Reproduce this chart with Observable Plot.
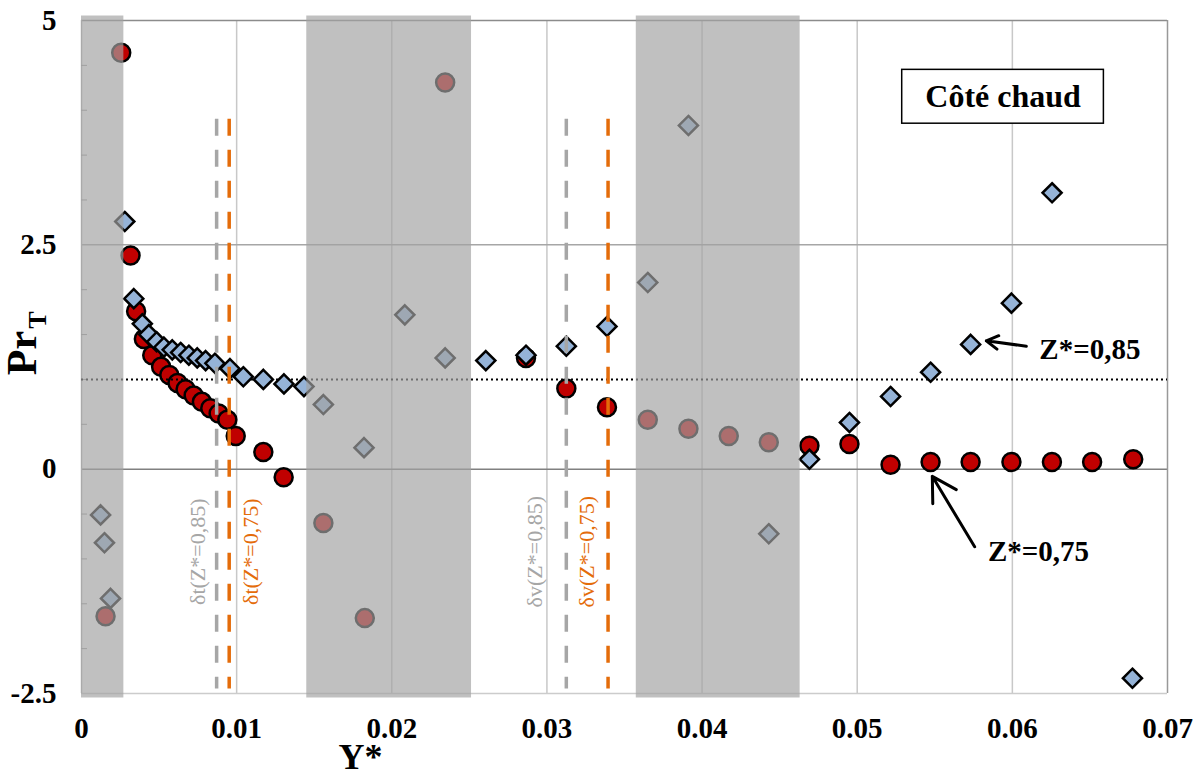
<!DOCTYPE html>
<html>
<head>
<meta charset="utf-8">
<script src="https://cdn.jsdelivr.net/npm/d3@7"></script>
<script src="https://cdn.jsdelivr.net/npm/@observablehq/plot@0.6"></script>
<style>
  html, body { margin: 0; padding: 0; background: #fff; }
  #chart { width: 1201px; height: 776px; }
</style>
</head>
<body>
<div id="chart"></div>
<script>
// ---- Data ----
// Z* = 0.75 (red circles)
const circleX = [0.00155, 0.00256, 0.00316, 0.00352, 0.00402, 0.00456, 0.00513, 0.00566, 0.00619, 0.00671,
  0.00723, 0.00776, 0.00830, 0.00884, 0.00940, 0.00994, 0.01172, 0.01303, 0.01559, 0.01826,
  0.02344, 0.02865, 0.03125, 0.03387, 0.03650, 0.03912, 0.04172, 0.04430, 0.04692, 0.04950,
  0.05215, 0.05473, 0.05731, 0.05994, 0.06255, 0.06514, 0.06779];
const circleY = [-1.64, 4.64, 2.38, 1.76, 1.45, 1.27, 1.14, 1.05, 0.96, 0.89,
  0.82, 0.75, 0.68, 0.62, 0.55, 0.37, 0.19, -0.09, -0.60, -1.66,
  4.31, 1.24, 0.90, 0.69, 0.55, 0.45, 0.37, 0.30, 0.26, 0.28,
  0.05, 0.08, 0.08, 0.08, 0.08, 0.08, 0.11];
// Z* = 0.85 (blue diamonds)
const diamondX = [0.00123, 0.00148, 0.00187, 0.00279, 0.00337, 0.00392, 0.00434, 0.00484, 0.00531, 0.00585,
  0.00639, 0.00692, 0.00746, 0.00800, 0.00860, 0.00957, 0.01043, 0.01172, 0.01305, 0.01434,
  0.01559, 0.01821, 0.02084, 0.02344, 0.02606, 0.02865, 0.03125, 0.03387, 0.03650, 0.03912,
  0.04430, 0.04692, 0.04950, 0.05215, 0.05473, 0.05731, 0.05994, 0.06256, 0.06774];
const diamondY = [-0.51, -0.82, -1.44, 2.76, 1.90, 1.62, 1.50, 1.42, 1.36, 1.33,
  1.30, 1.27, 1.24, 1.21, 1.18, 1.12, 1.03, 1.00, 0.95, 0.92,
  0.72, 0.24, 1.72, 1.24, 1.21, 1.27, 1.37, 1.59, 2.08, 3.83,
  -0.72, 0.11, 0.52, 0.81, 1.08, 1.39, 1.85, 3.08, -2.33];

// Shaded (masked) regions along Y*
const bandStart = [0, 0.01452, 0.03576];
const bandEnd   = [0.00273, 0.02514, 0.04632];

// Boundary-layer thickness markers
const deltaX      = [0.00871, 0.00952, 0.03125, 0.03394];
const deltaColor  = ["#a6a6a6", "#e46c0a", "#a6a6a6", "#e46c0a"];
const deltaLabel  = ["δt(Z*=0,85)", "δt(Z*=0,75)", "δv(Z*=0,85)", "δv(Z*=0,75)"];
const deltaLabelX = [0.00748, 0.01090, 0.02923, 0.03258];
const deltaTop = 3.9, deltaBottom = -2.45, deltaLabelY = -0.92;

// Axis ticks
const xTicks = [0, 0.01, 0.02, 0.03, 0.04, 0.05, 0.06, 0.07];
const xGrid = [0.01, 0.02, 0.03, 0.04, 0.05, 0.06];
const yTicks = [-2.5, 0, 2.5, 5];
const yMinor = [-2, -1.5, -1, -0.5, 0.5, 1, 1.5, 2, 3, 3.5, 4, 4.5];
const refLine = 1;

// Annotations
const seriesLabel = ["Z*=0,85", "Z*=0,75"];
const seriesLabelX = [0.06174, 0.05843];
const seriesLabelY = [1.33, -0.92];
const arrowFromX = [0.0609, 0.05757], arrowFromY = [1.37, -0.865];
const arrowToX = [0.05832, 0.05484],  arrowToY = [1.43, -0.08];
const boxText = "Côté chaud";
const boxX1 = 0.0529, boxX2 = 0.0659, boxY1 = 3.85, boxY2 = 4.45;

// ---- Build tables ----
const circles = circleX.map((x, i) => ({x, y: circleY[i]}));
const diamonds = diamondX.map((x, i) => ({x, y: diamondY[i]}));
const bands = bandStart.map((x1, i) => ({x1, x2: bandEnd[i]}));
const deltas = deltaX.map((x, i) => ({x, color: deltaColor[i], label: deltaLabel[i], lx: deltaLabelX[i]}));
const labels = seriesLabel.map((t, i) => ({t, x: seriesLabelX[i], y: seriesLabelY[i]}));
const arrows = arrowFromX.map((x1, i) => ({x1, y1: arrowFromY[i], x2: arrowToX[i], y2: arrowToY[i]}));

const serif = "'Liberation Serif', 'Times New Roman', serif";

const chart = Plot.plot({
  width: 1201,
  height: 776,
  marginLeft: 81,
  marginRight: 34,
  marginTop: 20,
  marginBottom: 83,
  style: {fontFamily: serif, background: "white", color: "black"},
  x: {domain: [0, 0.07]},
  y: {domain: [-2.5, 5]},
  marks: [
    // grid and frame
    Plot.ruleX(xGrid, {stroke: "#c8c8c8", strokeWidth: 1.5}),
    Plot.ruleY([2.5], {stroke: "#a6a6a6", strokeWidth: 1.5}),
    Plot.ruleY([0], {stroke: "#808080", strokeWidth: 1.5}),
    Plot.ruleY([5], {stroke: "#8c8c8c", strokeWidth: 1.5}),
    Plot.ruleX([0.07], {stroke: "#999999", strokeWidth: 1.5}),
    Plot.ruleY([-2.5], {stroke: "#cccccc", strokeWidth: 1.5}),
    Plot.ruleX([0], {stroke: "#bbbbbb", strokeWidth: 1.5}),
    // axes
    Plot.axisX({ticks: xTicks, tickSize: 0, tickPadding: 24, tickFormat: d => String(d),
      fontSize: 29, fontWeight: "bold", label: null}),
    Plot.axisY({ticks: yTicks, tickSize: 0, tickPadding: 25, tickFormat: d => String(d),
      fontSize: 29, fontWeight: "bold", label: null}),
    Plot.axisY({ticks: yMinor, tickSize: 6, dx: 6, tickFormat: () => "", stroke: "#999", label: null}),
    // series
    Plot.dot(circles, {x: "x", y: "y", r: 9, fill: "#c00000", stroke: "black", strokeWidth: 2.5}),
    Plot.ruleY([refLine], {stroke: "black", strokeWidth: 2, strokeDasharray: "2,3"}),
    Plot.dot(diamonds, {x: "x", y: "y", r: 8.6, symbol: "diamond2", fill: "#95b3d7", stroke: "black", strokeWidth: 2.5}),
    // delta markers
    Plot.ruleX(deltas, {x: "x", y1: deltaTop, y2: deltaBottom, stroke: "color", strokeWidth: 3.5, strokeDasharray: "17,14"}),
    // shaded overlay bands
    Plot.rect(bands, {x1: "x1", x2: "x2", y1: -2.55, y2: 5.05, fill: "#a2a2a2", fillOpacity: 0.68}),
    // delta labels
    Plot.text(deltas, {x: "lx", y: deltaLabelY, text: "label", fill: "color", rotate: -90,
      fontSize: 22, fontWeight: "normal", textAnchor: "middle", lineAnchor: "middle"}),
    // series annotations
    Plot.arrow(arrows, {x1: "x1", y1: "y1", x2: "x2", y2: "y2", stroke: "black", strokeWidth: 3, headLength: 14}),
    Plot.text(labels, {x: "x", y: "y", text: "t", fontSize: 29, fontWeight: "bold", textAnchor: "start", lineAnchor: "middle"}),
    // "Côté chaud" box
    Plot.rect([0], {x1: boxX1, x2: boxX2, y1: boxY1, y2: boxY2, fill: "white", stroke: "black", strokeWidth: 1.5}),
    Plot.text([boxText], {x: (boxX1 + boxX2) / 2, y: (boxY1 + boxY2) / 2, text: d => d, fontSize: 32, fontWeight: "bold", lineAnchor: "middle"}),
    // axis titles
    Plot.text(["Y*"], {frameAnchor: "bottom", dx: -264, dy: 64, text: d => d, fontSize: 36, fontWeight: "bold", lineAnchor: "middle"}),
    Plot.text(["Pr"], {frameAnchor: "left", dx: -59, dy: -4, text: d => d, rotate: -90, fontSize: 42, fontWeight: "bold", textAnchor: "middle", lineAnchor: "middle"}),
    Plot.text(["T"], {frameAnchor: "left", dx: -44, dy: -37, text: d => d, rotate: -90, fontSize: 26, fontWeight: "bold", textAnchor: "middle", lineAnchor: "middle"})
  ]
});
document.getElementById("chart").appendChild(chart);
</script>
</body>
</html>
